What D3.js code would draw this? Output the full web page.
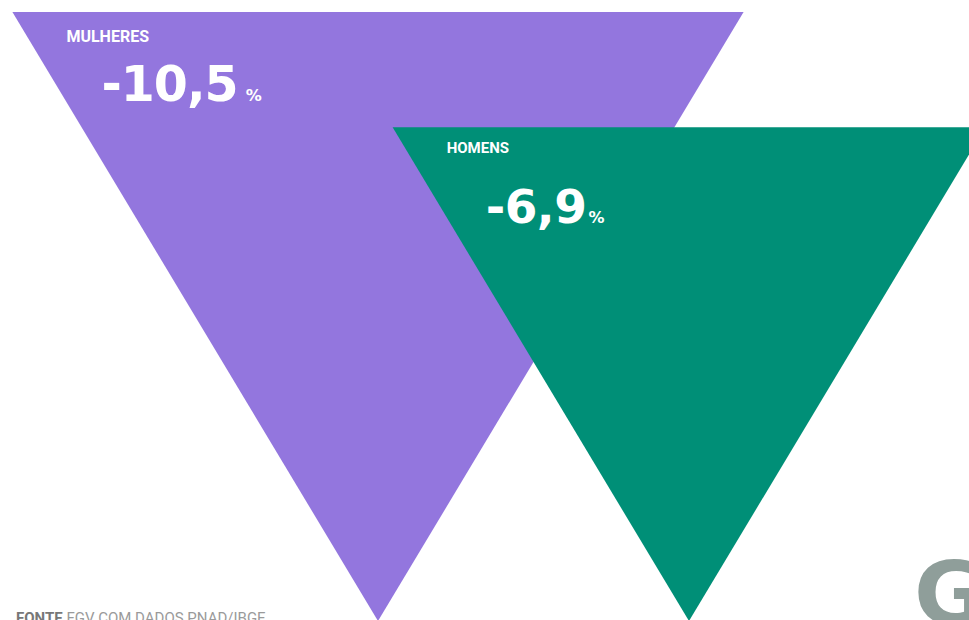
<!DOCTYPE html>
<html><head><meta charset="utf-8">
<script src="https://cdn.jsdelivr.net/npm/d3@7"></script>
<style>html,body{margin:0;padding:0;background:#fff;overflow:hidden}svg{display:block}</style>
</head><body>
<svg id="c" width="969" height="620"></svg>
<script>
const categories = ["MULHERES", "HOMENS"];
const values = [-10.5, -6.9];
const labels = ["-10,5", "-6,9"];
const colors = ["#9376de", "#008f77"];
const source = ["FONTE", " FGV COM DADOS PNAD/IBGE"];

const svg = d3.select("#c");
const apexY = 621;
const hScale = d3.scaleSqrt().domain([0, 10.5]).range([0, 609]);
const aspect = 365 / 608; // half-width / height
const apexX = d3.scaleOrdinal().domain(categories).range([378, 689]);

const data = categories.map((c, i) => ({c, v: values[i], label: labels[i], color: colors[i]}));

data.forEach((d, i) => {
  const h = hScale(Math.abs(d.v));
  const hw = h * aspect;
  const ax = apexX(d.c);
  const top = apexY - h;
  svg.append("path")
    .attr("d", d3.line()([[ax - hw, top], [ax + hw, top], [ax, apexY]]) + "Z")
    .attr("fill", d.color);
  const lx = ax - hw + 54;
  svg.append("text").attr("x", lx).attr("y", top + (i === 0 ? 30 : 26))
    .attr("fill", "#fff").attr("font-family", "Roboto, Inter, sans-serif")
    .attr("font-weight", 700).attr("font-size", i === 0 ? 16 : 15)
    .text(d.c);
  const t = svg.append("text").attr("x", lx + (i === 0 ? 35 : 39)).attr("y", top + (i === 0 ? 89 : 96))
    .attr("fill", "#fff").attr("font-family", "'DejaVu Sans', sans-serif")
    .attr("font-weight", 700).attr("font-size", i === 0 ? 49 : 47)
    .attr("letter-spacing", i === 0 ? -1 : -0.5);
  t.append("tspan").text(d.label);
  t.append("tspan").attr("font-size", 16).attr("dx", i === 0 ? 8 : 2).attr("letter-spacing", 0).text("%");
});

const s = svg.append("text").attr("x", 16).attr("y", 623)
  .attr("font-family", "Roboto, sans-serif").attr("font-size", 15).attr("fill", "#9a9a9a");
s.append("tspan").attr("font-weight", 700).attr("fill", "#777").text(source[0]);
s.append("tspan").text(source[1]);

svg.append("text").attr("x", 914).attr("y", 624)
  .attr("font-family", "'DejaVu Sans', sans-serif").attr("font-weight", 700)
  .attr("font-size", 88).attr("fill", "#8f9e9a").text("G");
</script>
</body></html>
